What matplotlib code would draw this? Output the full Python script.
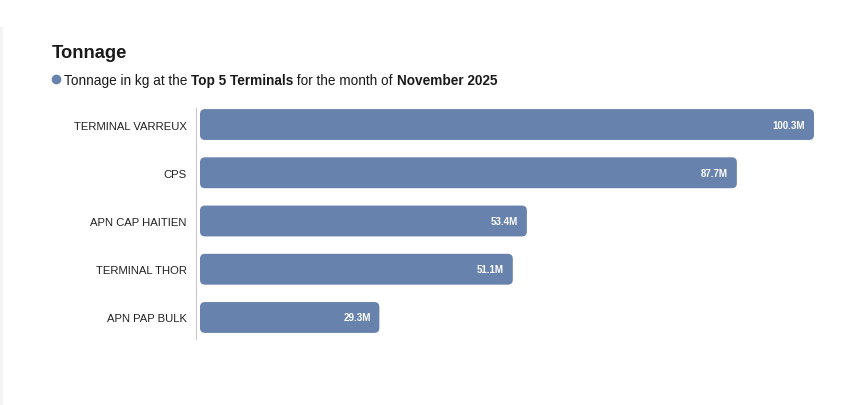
import matplotlib
matplotlib.use("Agg")
import matplotlib.pyplot as plt
from matplotlib.patches import FancyBboxPatch, Rectangle
from matplotlib.lines import Line2D
from matplotlib.text import Annotation

terminals = ["TERMINAL VARREUX", "CPS", "APN CAP HAITIEN", "TERMINAL THOR", "APN PAP BULK"]
tonnage_m = [100.3, 87.7, 53.4, 51.1, 29.3]
value_labels = ["100.3M", "87.7M", "53.4M", "51.1M", "29.3M"]

W, H = 850, 406
plt.rcParams['font.family'] = ['Liberation Sans', 'DejaVu Sans']
fig = plt.figure(figsize=(W / 100, H / 100), dpi=100)
fig.patch.set_facecolor('white')

# faint left strip
fig.add_artist(Rectangle((0, 0), 3 / W, 1 - 28 / H, transform=fig.transFigure,
                         facecolor='#f4f4f4', edgecolor='none'))

# axes placement (pixels)
x0, x1 = 200, 814
ytop, ybot = 101.4, 342.6
ax = fig.add_axes([x0 / W, 1 - ybot / H, (x1 - x0) / W, (ybot - ytop) / H])
ax.set_facecolor('none')

xmax = max(tonnage_m)
ax.set_xlim(0, xmax)
n = len(terminals)
ax.set_ylim(n - 0.5, -0.5)

bar_color = '#6783ad'
bh = 0.64
bars = ax.barh(range(n), tonnage_m, height=bh, color=bar_color)

px_per_x = (x1 - x0) / xmax
px_per_y = (ybot - ytop) / n
aspect = px_per_x / px_per_y
r_px = 5
for b in bars:
    b.set_visible(False)
    fp = FancyBboxPatch((b.get_x(), b.get_y()), b.get_width(), b.get_height(),
                        boxstyle=f"round,pad=0,rounding_size={r_px / px_per_x}",
                        mutation_aspect=aspect, facecolor=bar_color, edgecolor='none')
    ax.add_patch(fp)

for i, (v, lab) in enumerate(zip(tonnage_m, value_labels)):
    ax.annotate(lab, xy=(v, i), xytext=(-6.3, 0), textcoords='offset points',
                ha='right', va='center', color='white', fontsize=7, fontweight='bold')

ax.set_yticks(range(n))
ax.set_yticklabels(terminals)
ax.tick_params(axis='y', length=0, pad=6.8, labelsize=8.1, labelcolor='#222222')
ax.set_xticks([])
for s in ['top', 'right', 'bottom']:
    ax.spines[s].set_visible(False)
ax.spines['left'].set_position(('outward', 2.9))
ax.spines['left'].set_color('#c8c8c8')
ax.spines['left'].set_linewidth(0.8)
ax.spines['left'].set_bounds(-0.34, 4.45)

# title
fig.text(52 / W, 1 - 53 / H, "Tonnage", ha='left', va='center',
         fontsize=13.2, fontweight='bold', color='#1a1a1a')

# legend marker
fig.add_artist(Line2D([55.5 / W], [1 - 79.5 / H], transform=fig.transFigure,
                      marker='o', markersize=7.0, markeredgewidth=0,
                      color=bar_color, linestyle='none'))

parts = [("Tonnage in kg at the ", 'normal'), ("Top 5 Terminals", 'bold'),
         (" for the month of ", 'normal'), ("November 2025", 'bold')]
fs_sub = 9.8
prev = fig.text(64 / W, 1 - 79.5 / H, parts[0][0], ha='left', va='center_baseline',
                fontsize=fs_sub, fontweight=parts[0][1], color='#1a1a1a')
for txt, wt in parts[1:]:
    prev = fig.add_artist(Annotation(
        txt, xy=(1, 0), xycoords=prev, xytext=(0, 0), textcoords='offset points',
        ha='left', va='bottom', fontsize=fs_sub, fontweight=wt, color='#1a1a1a',
        annotation_clip=False))

fig.savefig('out.png', dpi=100, facecolor='white')
